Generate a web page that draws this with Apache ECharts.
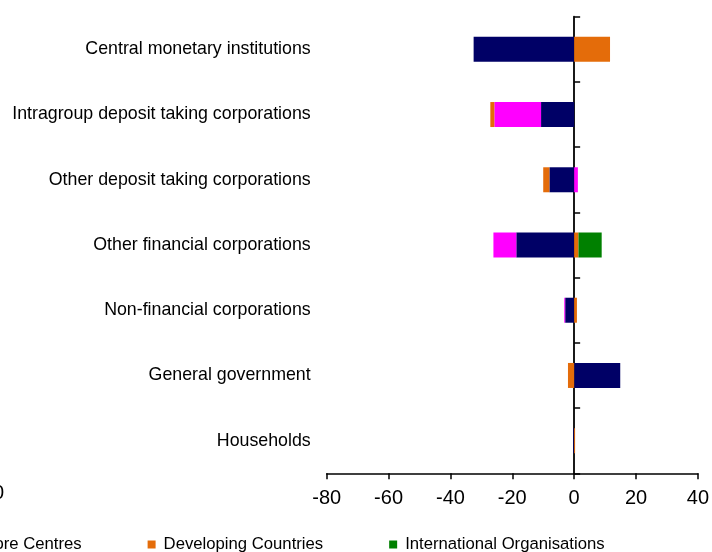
<!DOCTYPE html>
<html>
<head>
<meta charset="utf-8">
<script src="https://cdn.jsdelivr.net/npm/echarts@6/dist/echarts.min.js"></script>
<style>html,body{margin:0;padding:0;background:#fff}#c{width:712px;height:552px}</style>
</head>
<body>
<div id="c"></div>
<script>
const categories = ['Central monetary institutions','Intragroup deposit taking corporations','Other deposit taking corporations','Other financial corporations','Non-financial corporations','General government','Households'];
const seriesNames = ['Developed Countries','Offshore Centres','Developing Countries','International Organisations'];
const developed = [-32.5, -10.7, -8.0, -18.7, -2.9, 14.9, -0.3];
const offshore = [0, -15.1, 1.2, -7.4, -0.3, 0, 0];
const developing = [11.6, -1.3, -2.0, 1.4, 0.9, -2.0, 0.3];
const intl = [0, 0, 0, 7.5, 0, 0, 0];
const xTicks = {min: -80, max: 40, interval: 20};

const colors = ['#000066', '#FF00FF', '#E46C0A', '#008000'];
const font = 'Liberation Sans, Arial, sans-serif';
const chart = echarts.init(document.getElementById('c'));
const values = [developed, offshore, developing, intl];
chart.setOption({
  animation: false,
  textStyle: {fontFamily: font},
  grid: {left: 326.7, right: 12.7, top: 16.7, bottom: 78.7, containLabel: false},
  legend: {
    left: -304, top: 531, itemWidth: 8, itemHeight: 8, itemGap: 66,
    icon: 'rect',
    textStyle: {fontSize: 16.7, color: '#000', fontFamily: font, padding: [0, 0, 0, 3]},
    data: seriesNames
  },
  xAxis: {
    type: 'value', min: xTicks.min, max: xTicks.max, interval: xTicks.interval,
    splitLine: {show: false},
    axisLine: {show: true, lineStyle: {color: '#000', width: 1.5}},
    axisTick: {show: true, length: 6, lineStyle: {color: '#000', width: 1.5}},
    axisLabel: {fontSize: 20, color: '#000', margin: 15, fontFamily: font}
  },
  yAxis: [
    {
      type: 'category', data: categories, inverse: true, position: 'left',
      axisLine: {show: false, onZero: false}, axisTick: {show: false},
      axisLabel: {fontSize: 17.8, color: '#000', margin: 16, fontFamily: font}
    },
    {
      type: 'category', data: categories, inverse: true, position: 'left',
      axisLine: {show: true, onZero: true, lineStyle: {color: '#000', width: 1.8}},
      axisTick: {show: true, inside: true, length: 6, lineStyle: {color: '#000', width: 1.5}},
      axisLabel: {show: false}
    }
  ],
  graphic: [{
    type: 'text', left: -18, top: 483,
    style: {text: '40', fontSize: 20, fill: '#000', fontFamily: font}
  }],
  series: seriesNames.map((n, i) => ({
    name: n, type: 'bar', stack: 'total', yAxisIndex: 0,
    barWidth: 25, data: values[i],
    itemStyle: {color: colors[i]}
  }))
});
</script>
</body>
</html>
